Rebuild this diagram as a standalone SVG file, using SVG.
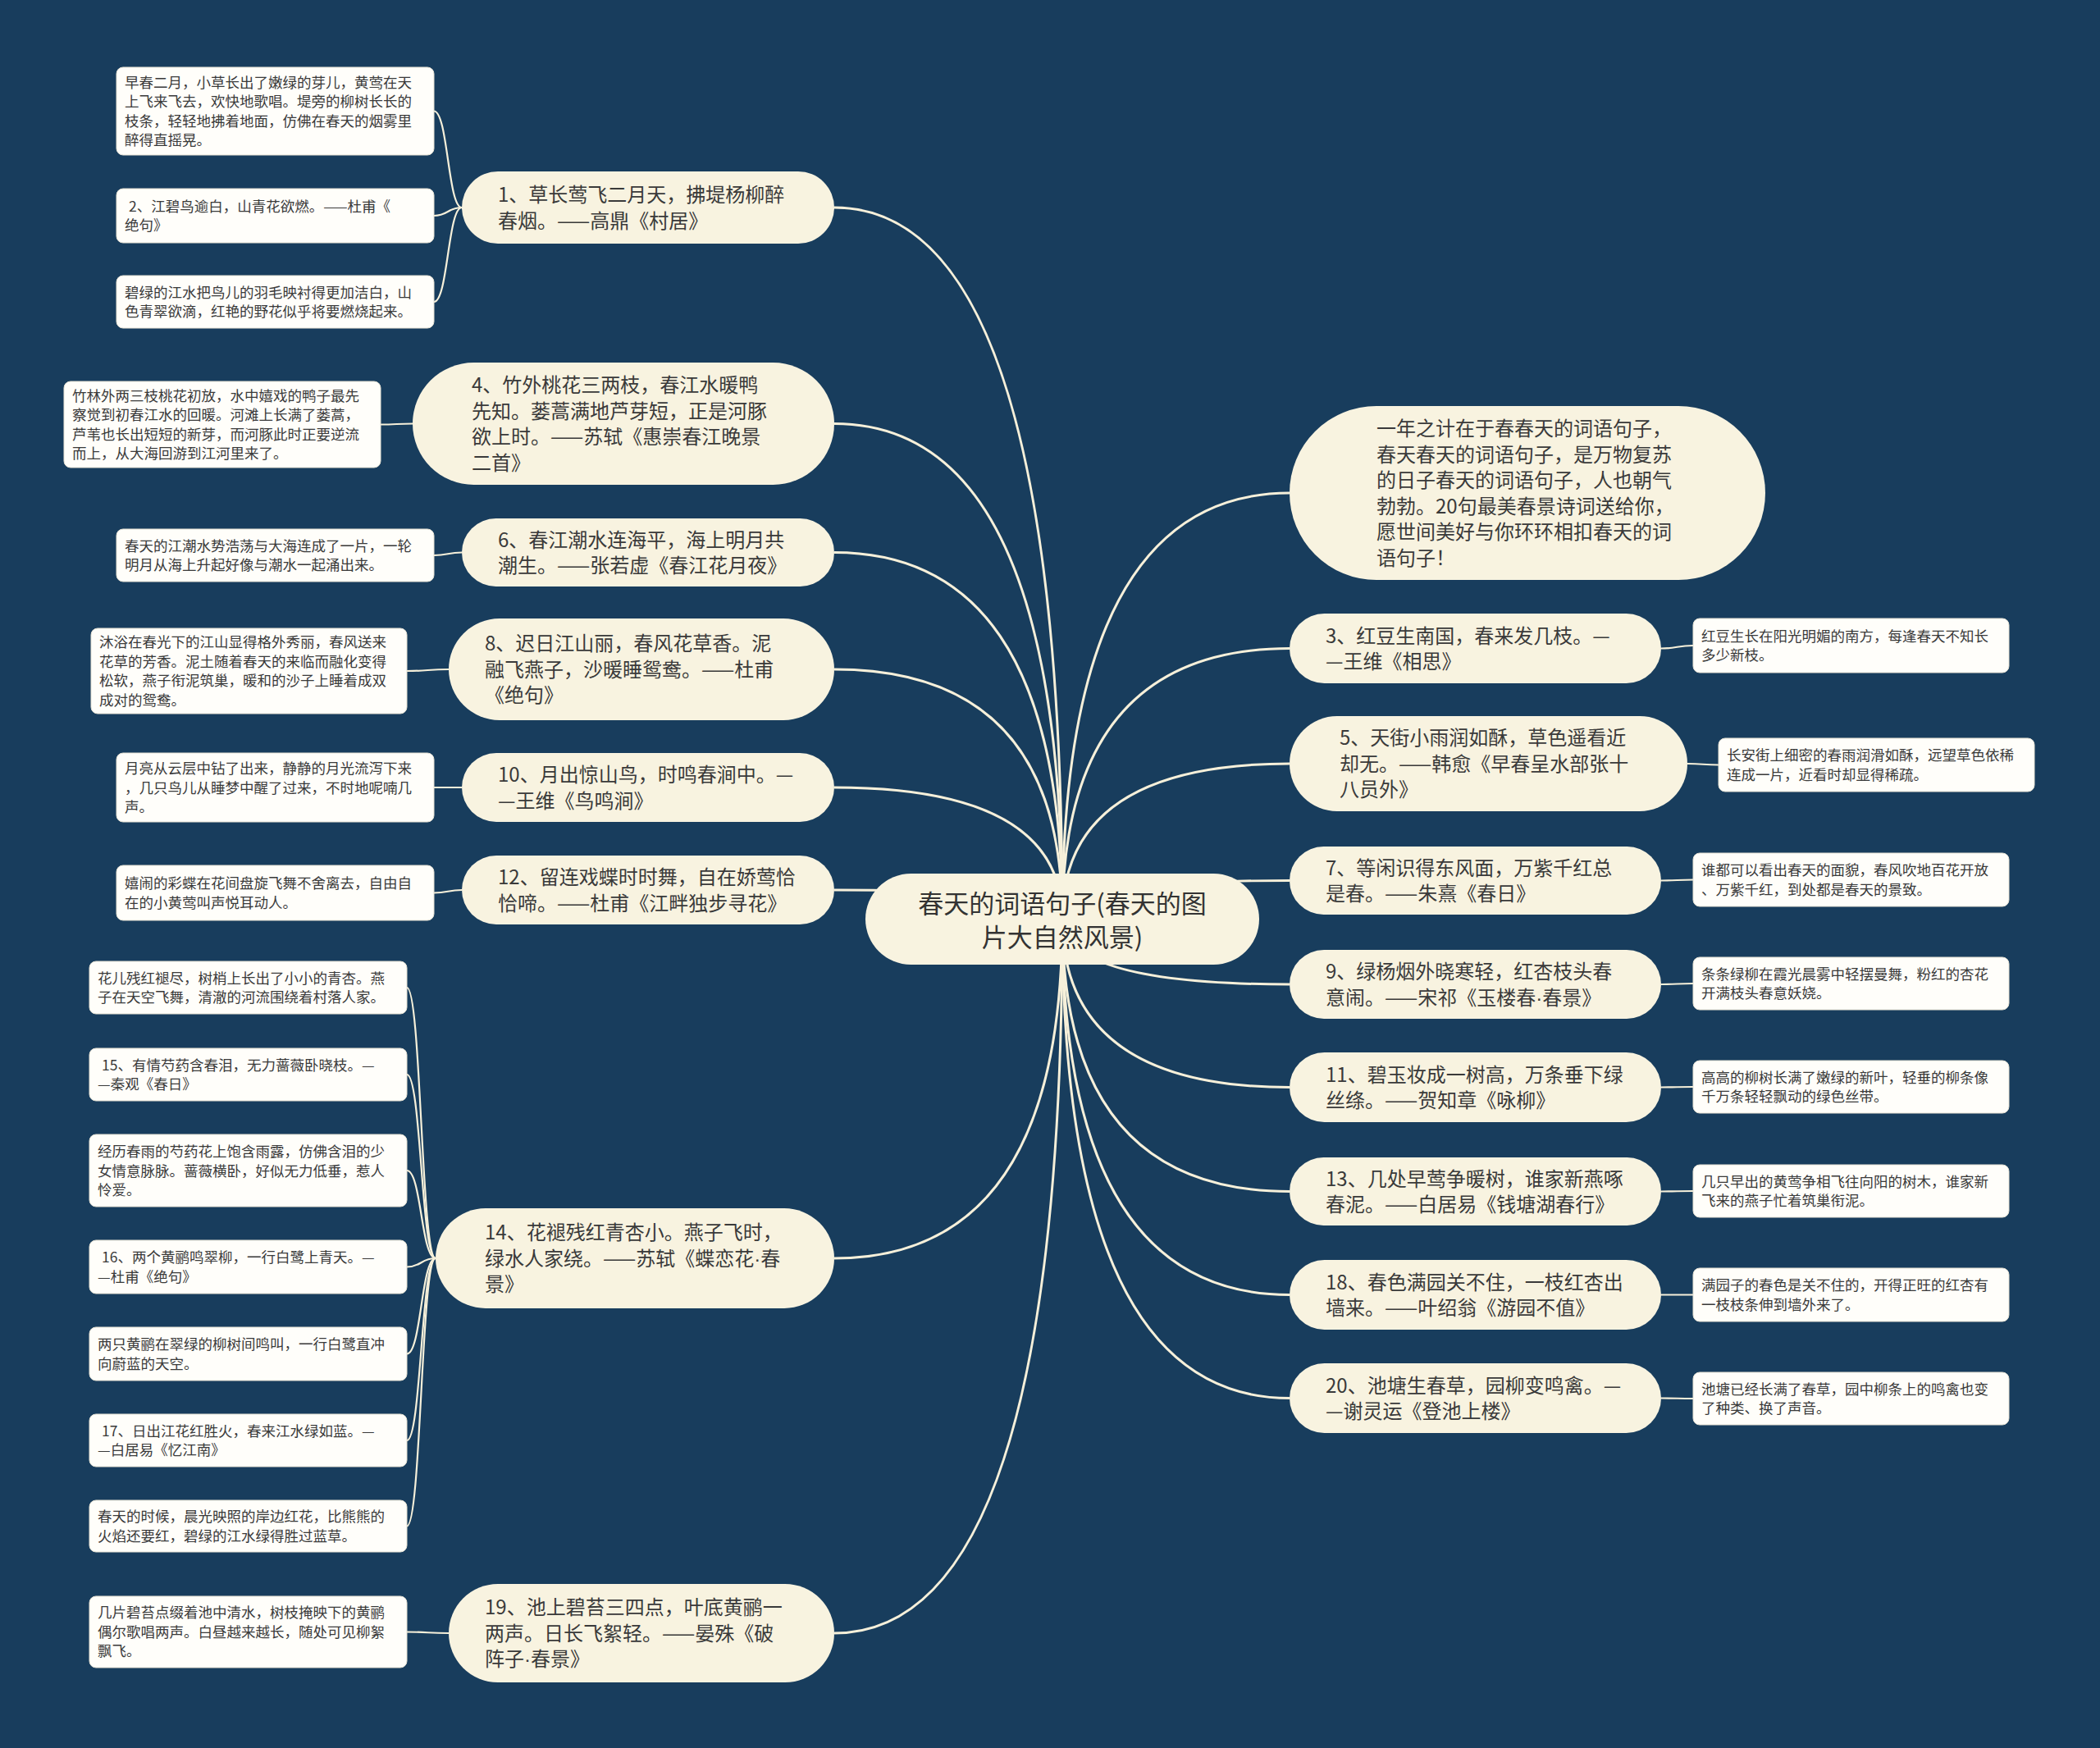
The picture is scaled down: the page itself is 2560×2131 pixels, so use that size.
<svg xmlns="http://www.w3.org/2000/svg" width="2560" height="2131" viewBox="0 0 2560 2131">
<style>
.bg{fill:#183d5d}
.n1{fill:#f8f3e0}
.root{fill:#f8f3e0}
.leaf{fill:#fffefa;stroke:#e6e2d4;stroke-width:1}
.t1{font-family:"Noto Sans CJK SC","Noto Sans",sans-serif;font-size:24px;fill:#3a3a3a}
.tl{font-family:"Noto Sans CJK SC","Noto Sans",sans-serif;font-size:17.5px;fill:#3a3a3a}
.tc{font-family:"Noto Sans CJK SC","Noto Sans",sans-serif;font-size:31px;fill:#333333;text-anchor:middle}
.dot{font-family:"Liberation Sans",sans-serif}
.e{fill:none;stroke:#f6f0da;stroke-width:3}
.el{fill:none;stroke:#f6f0da;stroke-width:2.2}
</style>
<rect class="bg" x="0" y="0" width="2560" height="2131"/>
<g id="connectors">
<path class="e" d="M1295 1120 Q1295 253 1017 253"/>
<path class="e" d="M1295 1120 Q1295 516.5 1017 516.5"/>
<path class="e" d="M1295 1120 Q1295 673.5 1017 673.5"/>
<path class="e" d="M1295 1120 Q1295 816 1017 816"/>
<path class="e" d="M1295 1120 Q1295 960 1017 960"/>
<path class="e" d="M1295 1120 Q1295 1085 1017 1085"/>
<path class="e" d="M1295 1120 Q1295 1534 1017 1534"/>
<path class="e" d="M1295 1120 Q1295 1991 1017 1991"/>
<path class="e" d="M1295 1120 Q1295 601 1572 601"/>
<path class="e" d="M1295 1120 Q1295 790.5 1572 790.5"/>
<path class="e" d="M1295 1120 Q1295 931 1572 931"/>
<path class="e" d="M1295 1120 Q1295 1073.5 1572 1073.5"/>
<path class="e" d="M1295 1120 Q1295 1200 1572 1200"/>
<path class="e" d="M1295 1120 Q1295 1325.5 1572 1325.5"/>
<path class="e" d="M1295 1120 Q1295 1452.5 1572 1452.5"/>
<path class="e" d="M1295 1120 Q1295 1578.5 1572 1578.5"/>
<path class="e" d="M1295 1120 Q1295 1704.5 1572 1704.5"/>
<path class="el" d="M563 253 C546 253 546 135.5 529 135.5"/>
<path class="el" d="M563 253 C546 253 546 263 529 263"/>
<path class="el" d="M563 253 C546 253 546 368 529 368"/>
<path class="el" d="M503 516.5 C483.5 516.5 483.5 517.5 464 517.5"/>
<path class="el" d="M563 673.5 C546 673.5 546 677 529 677"/>
<path class="el" d="M547 816 C521.5 816 521.5 818 496 818"/>
<path class="el" d="M563 960 C546 960 546 960 529 960"/>
<path class="el" d="M563 1085 C546 1085 546 1088.5 529 1088.5"/>
<path class="el" d="M531 1534 C513.5 1534 513.5 1204 496 1204"/>
<path class="el" d="M531 1534 C513.5 1534 513.5 1310 496 1310"/>
<path class="el" d="M531 1534 C513.5 1534 513.5 1427 496 1427"/>
<path class="el" d="M531 1534 C513.5 1534 513.5 1544.5 496 1544.5"/>
<path class="el" d="M531 1534 C513.5 1534 513.5 1650.5 496 1650.5"/>
<path class="el" d="M531 1534 C513.5 1534 513.5 1756 496 1756"/>
<path class="el" d="M531 1534 C513.5 1534 513.5 1860.5 496 1860.5"/>
<path class="el" d="M547 1991 C521.5 1991 521.5 1989.5 496 1989.5"/>
<path class="el" d="M2025 790.5 C2044.5 790.5 2044.5 787 2064 787"/>
<path class="el" d="M2057 931 C2076 931 2076 932.5 2095 932.5"/>
<path class="el" d="M2025 1073.5 C2044.5 1073.5 2044.5 1072.5 2064 1072.5"/>
<path class="el" d="M2025 1200 C2044.5 1200 2044.5 1199 2064 1199"/>
<path class="el" d="M2025 1325.5 C2044.5 1325.5 2044.5 1325 2064 1325"/>
<path class="el" d="M2025 1452.5 C2044.5 1452.5 2044.5 1452 2064 1452"/>
<path class="el" d="M2025 1578.5 C2044.5 1578.5 2044.5 1578.5 2064 1578.5"/>
<path class="el" d="M2025 1704.5 C2044.5 1704.5 2044.5 1705 2064 1705"/>
</g>
<g id="root">
<rect class="root" x="1055" y="1065" width="480" height="111" rx="55.5"/>
<text class="tc"><tspan x="1295" y="1113">春天的词语句子(春天的图</tspan><tspan x="1295" y="1154">片大自然风景)</tspan></text>
</g>
<g id="n1">
<rect class="n1" x="563" y="209" width="454" height="88" rx="44"/>
<text class="t1"><tspan x="607" y="246">1、草长莺飞二月天，拂堤杨柳醉</tspan><tspan x="607" y="278">春烟。——高鼎《村居》</tspan></text>
</g>
<g id="n1a">
<rect class="leaf" x="142" y="82" width="387" height="107" rx="8"/>
<text class="tl"><tspan x="152" y="107">早春二月，小草长出了嫩绿的芽儿，黄莺在天</tspan><tspan x="152" y="130">上飞来飞去，欢快地歌唱。堤旁的柳树长长的</tspan><tspan x="152" y="154">枝条，轻轻地拂着地面，仿佛在春天的烟雾里</tspan><tspan x="152" y="177">醉得直摇晃。</tspan></text>
</g>
<g id="n1b">
<rect class="leaf" x="142" y="230" width="387" height="66" rx="8"/>
<text class="tl"><tspan x="157" y="258">2、江碧鸟逾白，山青花欲燃。——杜甫《</tspan><tspan x="152" y="281">绝句》</tspan></text>
</g>
<g id="n1c">
<rect class="leaf" x="142" y="336" width="387" height="64" rx="8"/>
<text class="tl"><tspan x="152" y="363">碧绿的江水把鸟儿的羽毛映衬得更加洁白，山</tspan><tspan x="152" y="386">色青翠欲滴，红艳的野花似乎将要燃烧起来。</tspan></text>
</g>
<g id="n4">
<rect class="n1" x="503" y="442" width="514" height="149" rx="74.5"/>
<text class="t1"><tspan x="575" y="478">4、竹外桃花三两枝，春江水暖鸭</tspan><tspan x="575" y="510">先知。蒌蒿满地芦芽短，正是河豚</tspan><tspan x="575" y="541">欲上时。——苏轼《惠崇春江晚景</tspan><tspan x="575" y="573">二首》</tspan></text>
</g>
<g id="n4a">
<rect class="leaf" x="78" y="465" width="386" height="105" rx="8"/>
<text class="tl"><tspan x="88" y="489">竹林外两三枝桃花初放，水中嬉戏的鸭子最先</tspan><tspan x="88" y="512">察觉到初春江水的回暖。河滩上长满了蒌蒿，</tspan><tspan x="88" y="536">芦苇也长出短短的新芽，而河豚此时正要逆流</tspan><tspan x="88" y="559">而上，从大海回游到江河里来了。</tspan></text>
</g>
<g id="n6">
<rect class="n1" x="563" y="632" width="454" height="83" rx="41.5"/>
<text class="t1"><tspan x="607" y="667">6、春江潮水连海平，海上明月共</tspan><tspan x="607" y="698">潮生。——张若虚《春江花月夜》</tspan></text>
</g>
<g id="n6a">
<rect class="leaf" x="142" y="645" width="387" height="64" rx="8"/>
<text class="tl"><tspan x="152" y="672">春天的江潮水势浩荡与大海连成了一片，一轮</tspan><tspan x="152" y="695">明月从海上升起好像与潮水一起涌出来。</tspan></text>
</g>
<g id="n8">
<rect class="n1" x="547" y="754" width="470" height="124" rx="62"/>
<text class="t1"><tspan x="591" y="793">8、迟日江山丽，春风花草香。泥</tspan><tspan x="591" y="825">融飞燕子，沙暖睡鸳鸯。——杜甫</tspan><tspan x="591" y="856">《绝句》</tspan></text>
</g>
<g id="n8a">
<rect class="leaf" x="111" y="766" width="385" height="104" rx="8"/>
<text class="tl"><tspan x="121" y="789">沐浴在春光下的江山显得格外秀丽，春风送来</tspan><tspan x="121" y="813">花草的芳香。泥土随着春天的来临而融化变得</tspan><tspan x="121" y="836">松软，燕子衔泥筑巢，暖和的沙子上睡着成双</tspan><tspan x="121" y="860">成对的鸳鸯。</tspan></text>
</g>
<g id="n10">
<rect class="n1" x="563" y="918" width="454" height="84" rx="42"/>
<text class="t1"><tspan x="607" y="953">10、月出惊山鸟，时鸣春涧中。—</tspan><tspan x="607" y="985">—王维《鸟鸣涧》</tspan></text>
</g>
<g id="n10a">
<rect class="leaf" x="142" y="918" width="387" height="84" rx="8"/>
<text class="tl"><tspan x="152" y="943">月亮从云层中钻了出来，静静的月光流泻下来</tspan><tspan x="152" y="967">，几只鸟儿从睡梦中醒了过来，不时地呢喃几</tspan><tspan x="152" y="990">声。</tspan></text>
</g>
<g id="n12">
<rect class="n1" x="563" y="1043" width="454" height="84" rx="42"/>
<text class="t1"><tspan x="607" y="1078">12、留连戏蝶时时舞，自在娇莺恰</tspan><tspan x="607" y="1110">恰啼。——杜甫《江畔独步寻花》</tspan></text>
</g>
<g id="n12a">
<rect class="leaf" x="142" y="1055" width="387" height="67" rx="8"/>
<text class="tl"><tspan x="152" y="1083">嬉闹的彩蝶在花间盘旋飞舞不舍离去，自由自</tspan><tspan x="152" y="1107">在的小黄莺叫声悦耳动人。</tspan></text>
</g>
<g id="n14">
<rect class="n1" x="531" y="1473" width="486" height="122" rx="61"/>
<text class="t1"><tspan x="591" y="1511">14、花褪残红青杏小。燕子飞时，</tspan><tspan x="591" y="1543">绿水人家绕。——苏轼《蝶恋花<tspan class="dot">·</tspan>春</tspan><tspan x="591" y="1574">景》</tspan></text>
</g>
<g id="n14a">
<rect class="leaf" x="109" y="1172" width="387" height="64" rx="8"/>
<text class="tl"><tspan x="119" y="1199">花儿残红褪尽，树梢上长出了小小的青杏。燕</tspan><tspan x="119" y="1222">子在天空飞舞，清澈的河流围绕着村落人家。</tspan></text>
</g>
<g id="n14b">
<rect class="leaf" x="109" y="1278" width="387" height="64" rx="8"/>
<text class="tl"><tspan x="124" y="1305">15、有情芍药含春泪，无力蔷薇卧晓枝。—</tspan><tspan x="119" y="1328">—秦观《春日》</tspan></text>
</g>
<g id="n14c">
<rect class="leaf" x="109" y="1383" width="387" height="88" rx="8"/>
<text class="tl"><tspan x="119" y="1410">经历春雨的芍药花上饱含雨露，仿佛含泪的少</tspan><tspan x="119" y="1434">女情意脉脉。蔷薇横卧，好似无力低垂，惹人</tspan><tspan x="119" y="1457">怜爱。</tspan></text>
</g>
<g id="n14d">
<rect class="leaf" x="109" y="1512" width="387" height="65" rx="8"/>
<text class="tl"><tspan x="124" y="1539">16、两个黄鹂鸣翠柳，一行白鹭上青天。—</tspan><tspan x="119" y="1563">—杜甫《绝句》</tspan></text>
</g>
<g id="n14e">
<rect class="leaf" x="109" y="1618" width="387" height="65" rx="8"/>
<text class="tl"><tspan x="119" y="1645">两只黄鹂在翠绿的柳树间鸣叫，一行白鹭直冲</tspan><tspan x="119" y="1669">向蔚蓝的天空。</tspan></text>
</g>
<g id="n14f">
<rect class="leaf" x="109" y="1724" width="387" height="64" rx="8"/>
<text class="tl"><tspan x="124" y="1751">17、日出江花红胜火，春来江水绿如蓝。—</tspan><tspan x="119" y="1774">—白居易《忆江南》</tspan></text>
</g>
<g id="n14g">
<rect class="leaf" x="109" y="1829" width="387" height="63" rx="8"/>
<text class="tl"><tspan x="119" y="1855">春天的时候，晨光映照的岸边红花，比熊熊的</tspan><tspan x="119" y="1879">火焰还要红，碧绿的江水绿得胜过蓝草。</tspan></text>
</g>
<g id="n19">
<rect class="n1" x="547" y="1931" width="470" height="120" rx="60"/>
<text class="t1"><tspan x="591" y="1968">19、池上碧苔三四点，叶底黄鹂一</tspan><tspan x="591" y="2000">两声。日长飞絮轻。——晏殊《破</tspan><tspan x="591" y="2031">阵子<tspan class="dot">·</tspan>春景》</tspan></text>
</g>
<g id="n19a">
<rect class="leaf" x="109" y="1946" width="387" height="87" rx="8"/>
<text class="tl"><tspan x="119" y="1972">几片碧苔点缀着池中清水，树枝掩映下的黄鹂</tspan><tspan x="119" y="1996">偶尔歌唱两声。白昼越来越长，随处可见柳絮</tspan><tspan x="119" y="2019">飘飞。</tspan></text>
</g>
<g id="intro">
<rect class="n1" x="1572" y="495" width="580" height="212" rx="106"/>
<text class="t1"><tspan x="1678" y="531">一年之计在于春春天的词语句子，</tspan><tspan x="1678" y="563">春天春天的词语句子，是万物复苏</tspan><tspan x="1678" y="594">的日子春天的词语句子，人也朝气</tspan><tspan x="1678" y="626">勃勃。20句最美春景诗词送给你，</tspan><tspan x="1678" y="657">愿世间美好与你环环相扣春天的词</tspan><tspan x="1678" y="689">语句子！</tspan></text>
</g>
<g id="n3">
<rect class="n1" x="1572" y="748" width="453" height="85" rx="42.5"/>
<text class="t1"><tspan x="1616" y="784">3、红豆生南国，春来发几枝。—</tspan><tspan x="1616" y="815">—王维《相思》</tspan></text>
</g>
<g id="n3a">
<rect class="leaf" x="2064" y="754" width="385" height="66" rx="8"/>
<text class="tl"><tspan x="2074" y="782">红豆生长在阳光明媚的南方，每逢春天不知长</tspan><tspan x="2074" y="805">多少新枝。</tspan></text>
</g>
<g id="n5">
<rect class="n1" x="1572" y="873" width="485" height="116" rx="58"/>
<text class="t1"><tspan x="1633" y="908">5、天街小雨润如酥，草色遥看近</tspan><tspan x="1633" y="940">却无。——韩愈《早春呈水部张十</tspan><tspan x="1633" y="971">八员外》</tspan></text>
</g>
<g id="n5a">
<rect class="leaf" x="2095" y="900" width="385" height="65" rx="8"/>
<text class="tl"><tspan x="2105" y="927">长安街上细密的春雨润滑如酥，远望草色依稀</tspan><tspan x="2105" y="951">连成一片，近看时却显得稀疏。</tspan></text>
</g>
<g id="n7">
<rect class="n1" x="1572" y="1032" width="453" height="83" rx="41.5"/>
<text class="t1"><tspan x="1616" y="1067">7、等闲识得东风面，万紫千红总</tspan><tspan x="1616" y="1098">是春。——朱熹《春日》</tspan></text>
</g>
<g id="n7a">
<rect class="leaf" x="2064" y="1040" width="385" height="65" rx="8"/>
<text class="tl"><tspan x="2074" y="1067">谁都可以看出春天的面貌，春风吹地百花开放</tspan><tspan x="2074" y="1091">、万紫千红，到处都是春天的景致。</tspan></text>
</g>
<g id="n9">
<rect class="n1" x="1572" y="1158" width="453" height="84" rx="42"/>
<text class="t1"><tspan x="1616" y="1193">9、绿杨烟外晓寒轻，红杏枝头春</tspan><tspan x="1616" y="1225">意闹。——宋祁《玉楼春<tspan class="dot">·</tspan>春景》</tspan></text>
</g>
<g id="n9a">
<rect class="leaf" x="2064" y="1167" width="385" height="64" rx="8"/>
<text class="tl"><tspan x="2074" y="1194">条条绿柳在霞光晨雾中轻摆曼舞，粉红的杏花</tspan><tspan x="2074" y="1217">开满枝头春意妖娆。</tspan></text>
</g>
<g id="n11">
<rect class="n1" x="1572" y="1283" width="453" height="85" rx="42.5"/>
<text class="t1"><tspan x="1616" y="1319">11、碧玉妆成一树高，万条垂下绿</tspan><tspan x="1616" y="1350">丝绦。——贺知章《咏柳》</tspan></text>
</g>
<g id="n11a">
<rect class="leaf" x="2064" y="1293" width="385" height="64" rx="8"/>
<text class="tl"><tspan x="2074" y="1320">高高的柳树长满了嫩绿的新叶，轻垂的柳条像</tspan><tspan x="2074" y="1343">千万条轻轻飘动的绿色丝带。</tspan></text>
</g>
<g id="n13">
<rect class="n1" x="1572" y="1411" width="453" height="83" rx="41.5"/>
<text class="t1"><tspan x="1616" y="1446">13、几处早莺争暖树，谁家新燕啄</tspan><tspan x="1616" y="1477">春泥。——白居易《钱塘湖春行》</tspan></text>
</g>
<g id="n13a">
<rect class="leaf" x="2064" y="1420" width="385" height="64" rx="8"/>
<text class="tl"><tspan x="2074" y="1447">几只早出的黄莺争相飞往向阳的树木，谁家新</tspan><tspan x="2074" y="1470">飞来的燕子忙着筑巢衔泥。</tspan></text>
</g>
<g id="n18">
<rect class="n1" x="1572" y="1536" width="453" height="85" rx="42.5"/>
<text class="t1"><tspan x="1616" y="1572">18、春色满园关不住，一枝红杏出</tspan><tspan x="1616" y="1603">墙来。——叶绍翁《游园不值》</tspan></text>
</g>
<g id="n18a">
<rect class="leaf" x="2064" y="1546" width="385" height="65" rx="8"/>
<text class="tl"><tspan x="2074" y="1573">满园子的春色是关不住的，开得正旺的红杏有</tspan><tspan x="2074" y="1597">一枝枝条伸到墙外来了。</tspan></text>
</g>
<g id="n20">
<rect class="n1" x="1572" y="1662" width="453" height="85" rx="42.5"/>
<text class="t1"><tspan x="1616" y="1698">20、池塘生春草，园柳变鸣禽。—</tspan><tspan x="1616" y="1729">—谢灵运《登池上楼》</tspan></text>
</g>
<g id="n20a">
<rect class="leaf" x="2064" y="1673" width="385" height="64" rx="8"/>
<text class="tl"><tspan x="2074" y="1700">池塘已经长满了春草，园中柳条上的鸣禽也变</tspan><tspan x="2074" y="1723">了种类、换了声音。</tspan></text>
</g>
</svg>
